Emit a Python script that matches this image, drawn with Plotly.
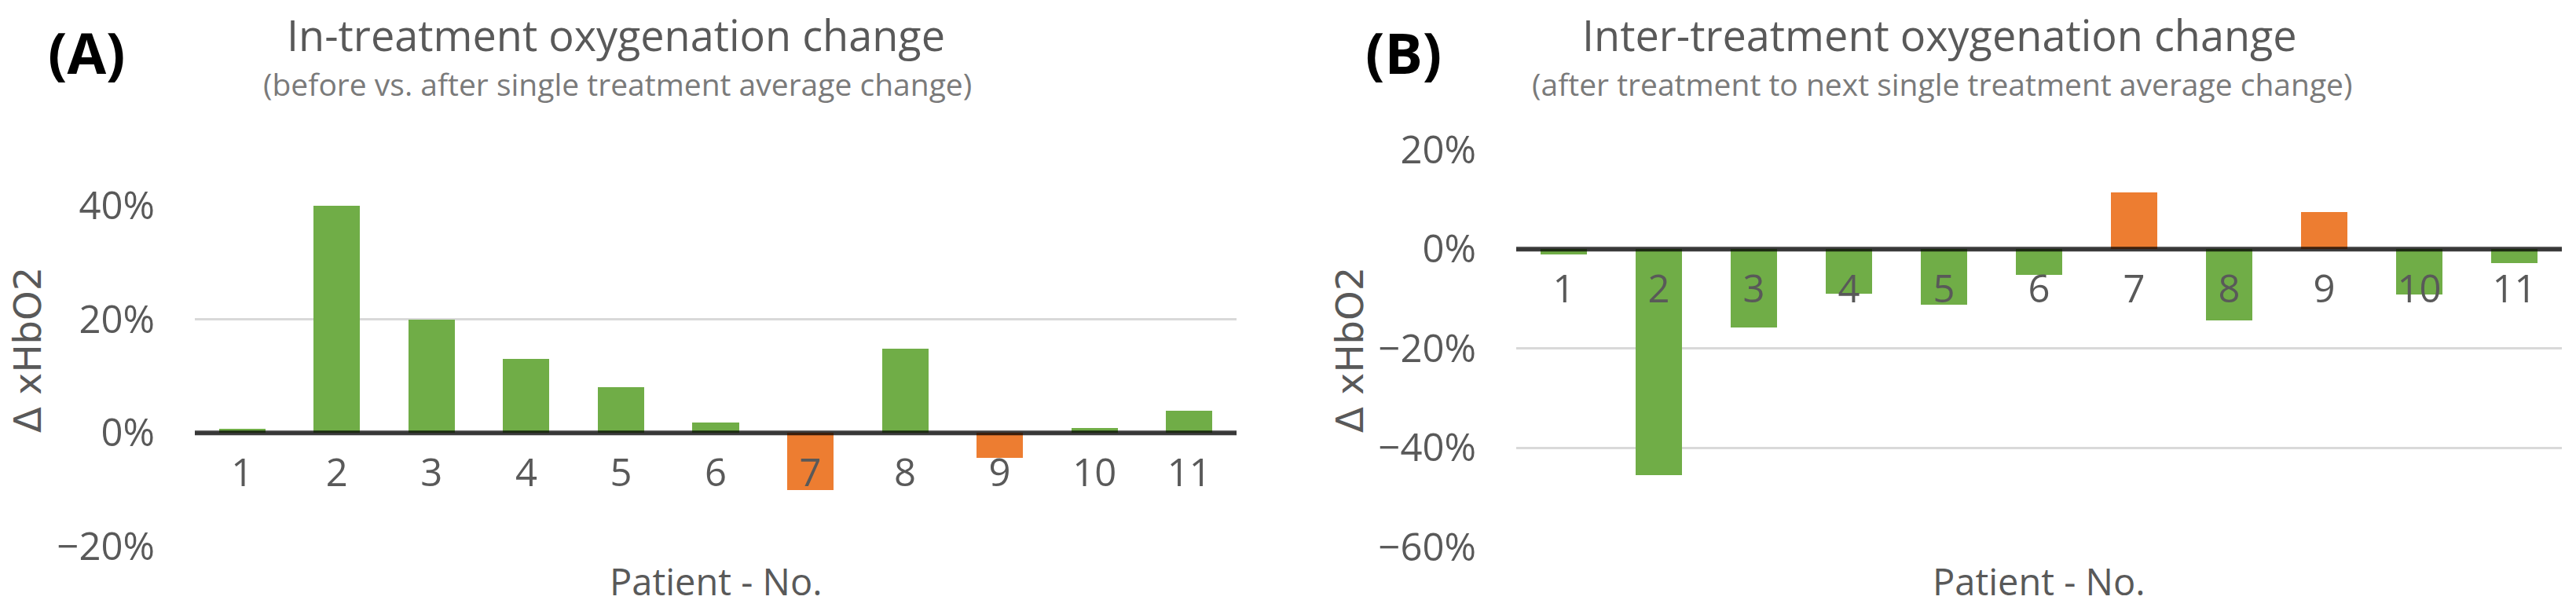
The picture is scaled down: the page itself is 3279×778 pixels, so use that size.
import plotly.graph_objects as go

# ---------------- data ----------------
patients = ["1", "2", "3", "4", "5", "6", "7", "8", "9", "10", "11"]
in_treatment_change = [0.008, 0.407, 0.199, 0.130, 0.080, 0.018, -0.100, 0.149, -0.044, 0.009, 0.039]
inter_treatment_change = [-0.011, -0.455, -0.157, -0.090, -0.112, -0.052, 0.114, -0.143, 0.074, -0.092, -0.028]

title_a = "In-treatment oxygenation change"
subtitle_a = "(before vs. after single treatment average change)"
title_b = "Inter-treatment oxygenation change"
subtitle_b = "(after treatment to next single treatment average change)"
panel_a = "(A)"
panel_b = "(B)"
x_title = "Patient - No."
y_title = "Δ xHbO2"

# ---------------- style ----------------
W, H = 3279, 778
GREEN = "#70AD47"
ORANGE = "#ED7D31"
TXT = "#595959"
SUB = "#7a7a7a"
GRID = "#d9d9d9"
FONT = "Open Sans"

range_a = [-0.2, 0.4]
range_b = [-0.6, 0.2]


def px_x(p):
    return p / W


def px_y(p):
    return 1 - p / H


dom_xa = [px_x(248), px_x(1574)]
dom_ya = [px_y(696), px_y(262)]
dom_xb = [px_x(1930), px_x(3261)]
dom_yb = [px_y(696.7), px_y(190.7)]


def zero_pos(dom, rng):
    return dom[0] + (0 - rng[0]) / (rng[1] - rng[0]) * (dom[1] - dom[0])


colors_a = [GREEN if v >= 0 else ORANGE for v in in_treatment_change]
colors_b = [GREEN if v <= 0 else ORANGE for v in inter_treatment_change]

fig = go.Figure()
fig.add_trace(go.Bar(x=patients, y=in_treatment_change, xaxis="x", yaxis="y",
                     marker=dict(color=colors_a, line=dict(width=0)), width=0.49,
                     showlegend=False, hoverinfo="skip"))
fig.add_trace(go.Bar(x=patients, y=inter_treatment_change, xaxis="x2", yaxis="y2",
                     marker=dict(color=colors_b, line=dict(width=0)), width=0.49,
                     showlegend=False, hoverinfo="skip"))

tickfont = dict(family=FONT, size=49, color=TXT)

common_x = dict(type="category", showgrid=False, zeroline=False, showline=False,
                ticks="", tickfont=tickfont, ticklabelstandoff=18, automargin=False)
common_y = dict(tickformat=".0%", dtick=0.2, showgrid=True, gridcolor=GRID, gridwidth=3,
                zeroline=False, showline=False, ticks="", tickfont=tickfont,
                ticklabelstandoff=50, automargin=False)

fig.update_layout(
    template="none",
    width=W, height=H,
    margin=dict(l=0, r=0, t=0, b=0, pad=0, autoexpand=False),
    paper_bgcolor="white", plot_bgcolor="white",
    bargap=0,
    hovermode=False,
    xaxis=dict(domain=dom_xa, anchor="free", position=zero_pos(dom_ya, range_a), **common_x),
    yaxis=dict(domain=dom_ya, anchor="x", range=[range_a[0] - 1e-4, range_a[1] + 1e-4], **common_y),
    xaxis2=dict(domain=dom_xb, anchor="free", position=zero_pos(dom_yb, range_b), **common_x),
    yaxis2=dict(domain=dom_yb, anchor="x2", range=[range_b[0] - 1e-4, range_b[1] + 1e-4], **common_y),
)

shapes = []
for xr, yr in (("x domain", "y"), ("x2 domain", "y2")):
    shapes.append(dict(type="line", xref=xr, yref=yr, x0=0, x1=1, y0=0, y1=0,
                       line=dict(color="rgba(0,0,0,0.75)", width=6), layer="above"))
fig.update_layout(shapes=shapes)

ann = []


def add_text(text, xc, yc, size, color, family=FONT, bold=False, angle=0):
    t = f"<b>{text}</b>" if bold else text
    ann.append(dict(text=t, x=px_x(xc), y=px_y(yc), xref="paper", yref="paper",
                    xanchor="center", yanchor="middle", showarrow=False, textangle=angle,
                    font=dict(family=family, size=size, color=color)))


add_text(panel_a, 110, 66, 72, "black", bold=True)
add_text(panel_b, 1786, 66, 72, "black", bold=True)
add_text(title_a, 784, 44, 54, TXT)
add_text(title_b, 2469, 44, 54, TXT)
add_text(subtitle_a, 786, 106, 39, SUB)
add_text(subtitle_b, 2472, 106, 39, SUB)
add_text(x_title, (248 + 1574) / 2, 740, 47, TXT)
add_text(x_title, (1930 + 3261) / 2, 740, 47, TXT)
add_text(y_title, 35, 446, 48, TXT, family="DejaVu Sans", angle=-90)
add_text(y_title, 1718, 446, 48, TXT, family="DejaVu Sans", angle=-90)
fig.update_layout(annotations=ann)

fig.write_html("out.html", config={"displayModeBar": False, "staticPlot": True},
               post_script="document.body.style.margin='0';document.body.style.overflow='hidden';")
